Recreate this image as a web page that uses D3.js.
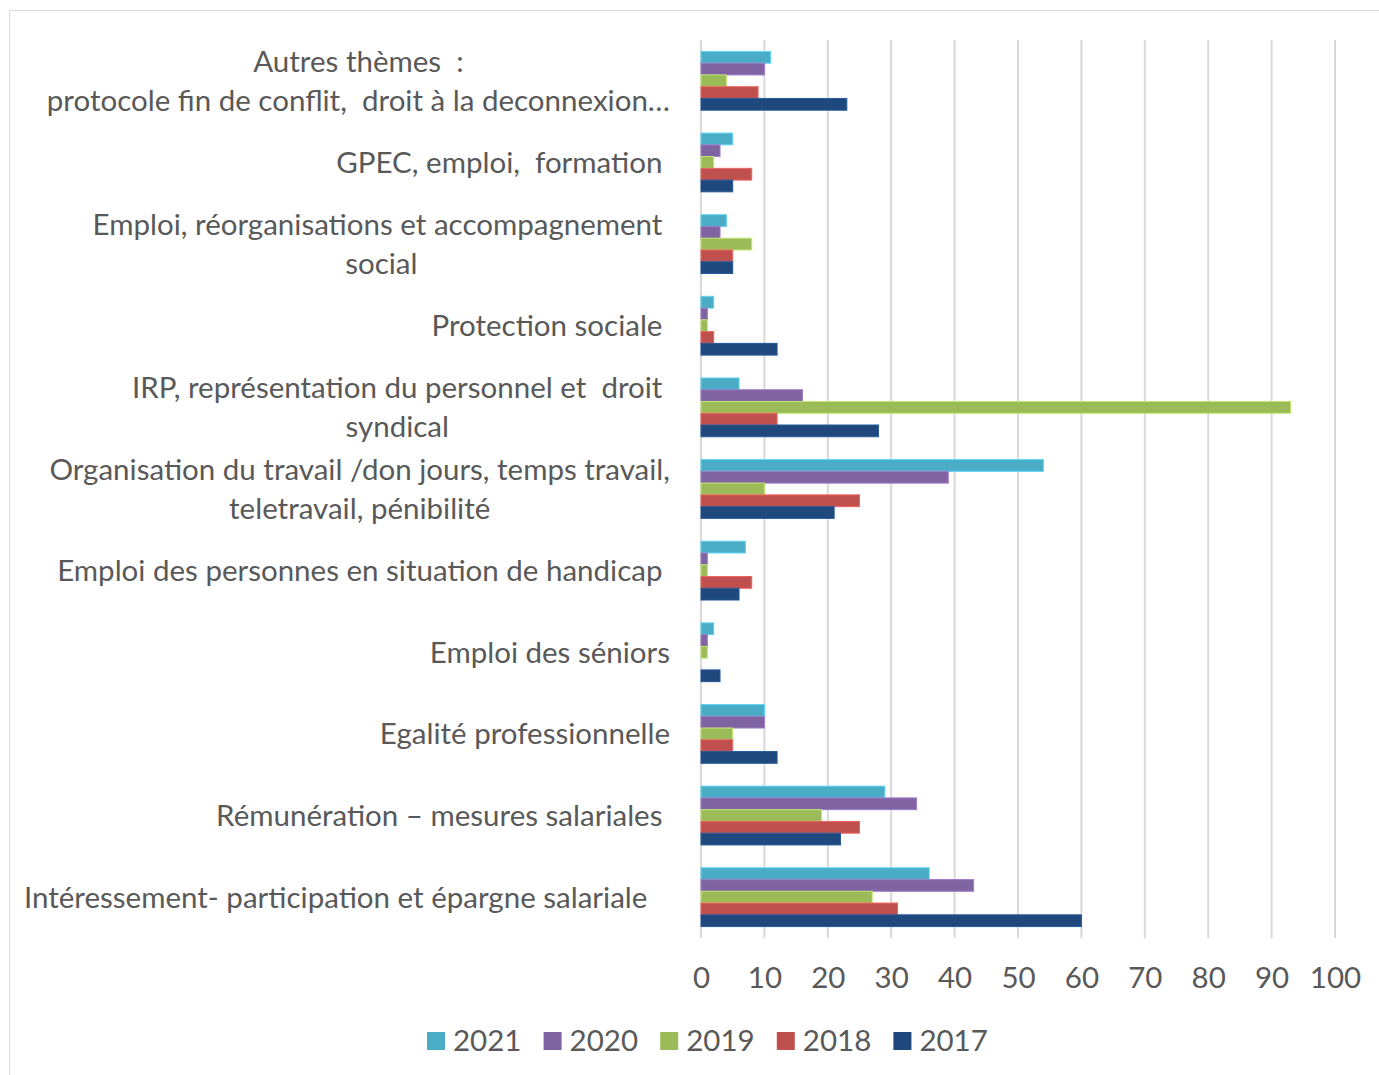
<!DOCTYPE html>
<html>
<head>
<meta charset="utf-8">
<script src="https://cdn.jsdelivr.net/npm/d3@7"></script>
<style>
  html, body { margin: 0; padding: 0; background: #fff; overflow: hidden; }
  svg { display: block; }
  text { font-family: Lato, "Open Sans", sans-serif; fill: #595959; }
</style>
</head>
<body>
<div id="chart"></div>
<script>
// categories, top to bottom (lines as wrapped in the original)
const categories = [
  ["Autres thèmes  :", "protocole fin de conflit,  droit à la deconnexion…"],
  ["GPEC, emploi,  formation "],
  ["Emploi, réorganisations et accompagnement ", "social"],
  ["Protection sociale "],
  ["IRP, représentation du personnel et  droit ", "syndical "],
  ["Organisation du travail /don jours, temps travail,", "teletravail, pénibilité"],
  ["Emploi des personnes en situation de handicap "],
  ["Emploi des séniors"],
  ["Egalité professionnelle"],
  ["Rémunération – mesures salariales "],
  ["Intéressement- participation et épargne salariale   "]
];

const years = ["2021", "2020", "2019", "2018", "2017"];
const colors = ["#4BACC6", "#8064A2", "#9BBB59", "#C0504D", "#1F497D"];

const v2021 = [11, 5, 4, 2, 6, 54, 7, 2, 10, 29, 36];
const v2020 = [10, 3, 3, 1, 16, 39, 1, 1, 10, 34, 43];
const v2019 = [4, 2, 8, 1, 93, 10, 1, 1, 5, 19, 27];
const v2018 = [9, 8, 5, 2, 12, 25, 8, 0, 5, 25, 31];
const v2017 = [23, 5, 5, 12, 28, 21, 6, 3, 12, 22, 60];
const series = [v2021, v2020, v2019, v2018, v2017];

const xTicks = [0, 10, 20, 30, 40, 50, 60, 70, 80, 90, 100];

const width = 1379, height = 1075;
const margin = { top: 40, right: 44, bottom: 137, left: 701 };
const innerWidth = width - margin.left - margin.right;
const innerHeight = height - margin.top - margin.bottom;
const fontSize = "29.5px";

const svg = d3.select("#chart").append("svg")
  .attr("width", width)
  .attr("height", height);

// chart border (only top and left edges fall inside the picture)
svg.append("path")
  .attr("d", `M9.5,${height} V10.5 H${width}`)
  .attr("fill", "none")
  .attr("stroke", "#d9d9d9");

const g = svg.append("g")
  .attr("transform", `translate(${margin.left},${margin.top})`);

const x = d3.scaleLinear().domain([0, 100]).range([0, innerWidth]);
const y = d3.scaleBand()
  .domain(d3.range(categories.length))
  .range([0, innerHeight])
  .paddingInner(0.28)
  .paddingOuter(0.14);
const ySub = d3.scaleBand().domain(years).range([0, y.bandwidth()]);

// gridlines
g.append("g")
  .selectAll("line")
  .data(xTicks)
  .join("line")
  .attr("x1", d => x(d)).attr("x2", d => x(d))
  .attr("y1", 0).attr("y2", innerHeight)
  .attr("stroke", "#d9d9d9")
  .attr("stroke-width", 2);

// bars
series.forEach((vals, si) => {
  g.append("g")
    .selectAll("rect")
    .data(vals)
    .join("rect")
    .attr("x", x(0))
    .attr("y", (d, i) => y(i) + ySub(years[si]))
    .attr("width", d => x(d) - x(0))
    .attr("height", ySub.bandwidth())
    .attr("fill", colors[si])
    .attr("stroke", d3.color(colors[si]).brighter(0.6))
    .attr("stroke-width", 1);
});

// x axis labels
const xAxis = d3.axisBottom(x).tickValues(xTicks).tickSize(0).tickPadding(29);
const ax = g.append("g")
  .attr("transform", `translate(0,${innerHeight})`)
  .call(xAxis);
ax.select(".domain").remove();
ax.selectAll("text")
  .style("font-family", "Lato, sans-serif")
  .style("font-size", fontSize)
  .attr("fill", "#595959");

// category labels: block right-aligned, lines centred within block
const lineH = 39;
categories.forEach((lines, i) => {
  const cy = margin.top + y(i) + y.bandwidth() / 2;
  const grp = svg.append("g");
  const texts = grp.selectAll("text")
    .data(lines)
    .join("text")
    .attr("y", (d, k) => cy + (k - (lines.length - 1) / 2) * lineH)
    .attr("dy", "0.35em")
    .attr("text-anchor", "middle")
    .style("font-size", fontSize)
    .style("white-space", "pre")
    .text(d => d);
  const maxW = d3.max(texts.nodes(), n => n.getComputedTextLength());
  texts.attr("x", 670 - maxW / 2);
});

// legend
const legend = svg.append("g")
  .attr("transform", `translate(427, 1041)`);
years.forEach((yr, i) => {
  const item = legend.append("g")
    .attr("transform", `translate(${i * 116.6}, 0)`);
  item.append("rect")
    .attr("x", 0).attr("y", -9)
    .attr("width", 18).attr("height", 18)
    .attr("fill", colors[i]);
  item.append("text")
    .attr("x", 26).attr("y", 0)
    .attr("dy", "0.35em")
    .style("font-size", fontSize)
    .text(yr);
});
</script>
</body>
</html>
